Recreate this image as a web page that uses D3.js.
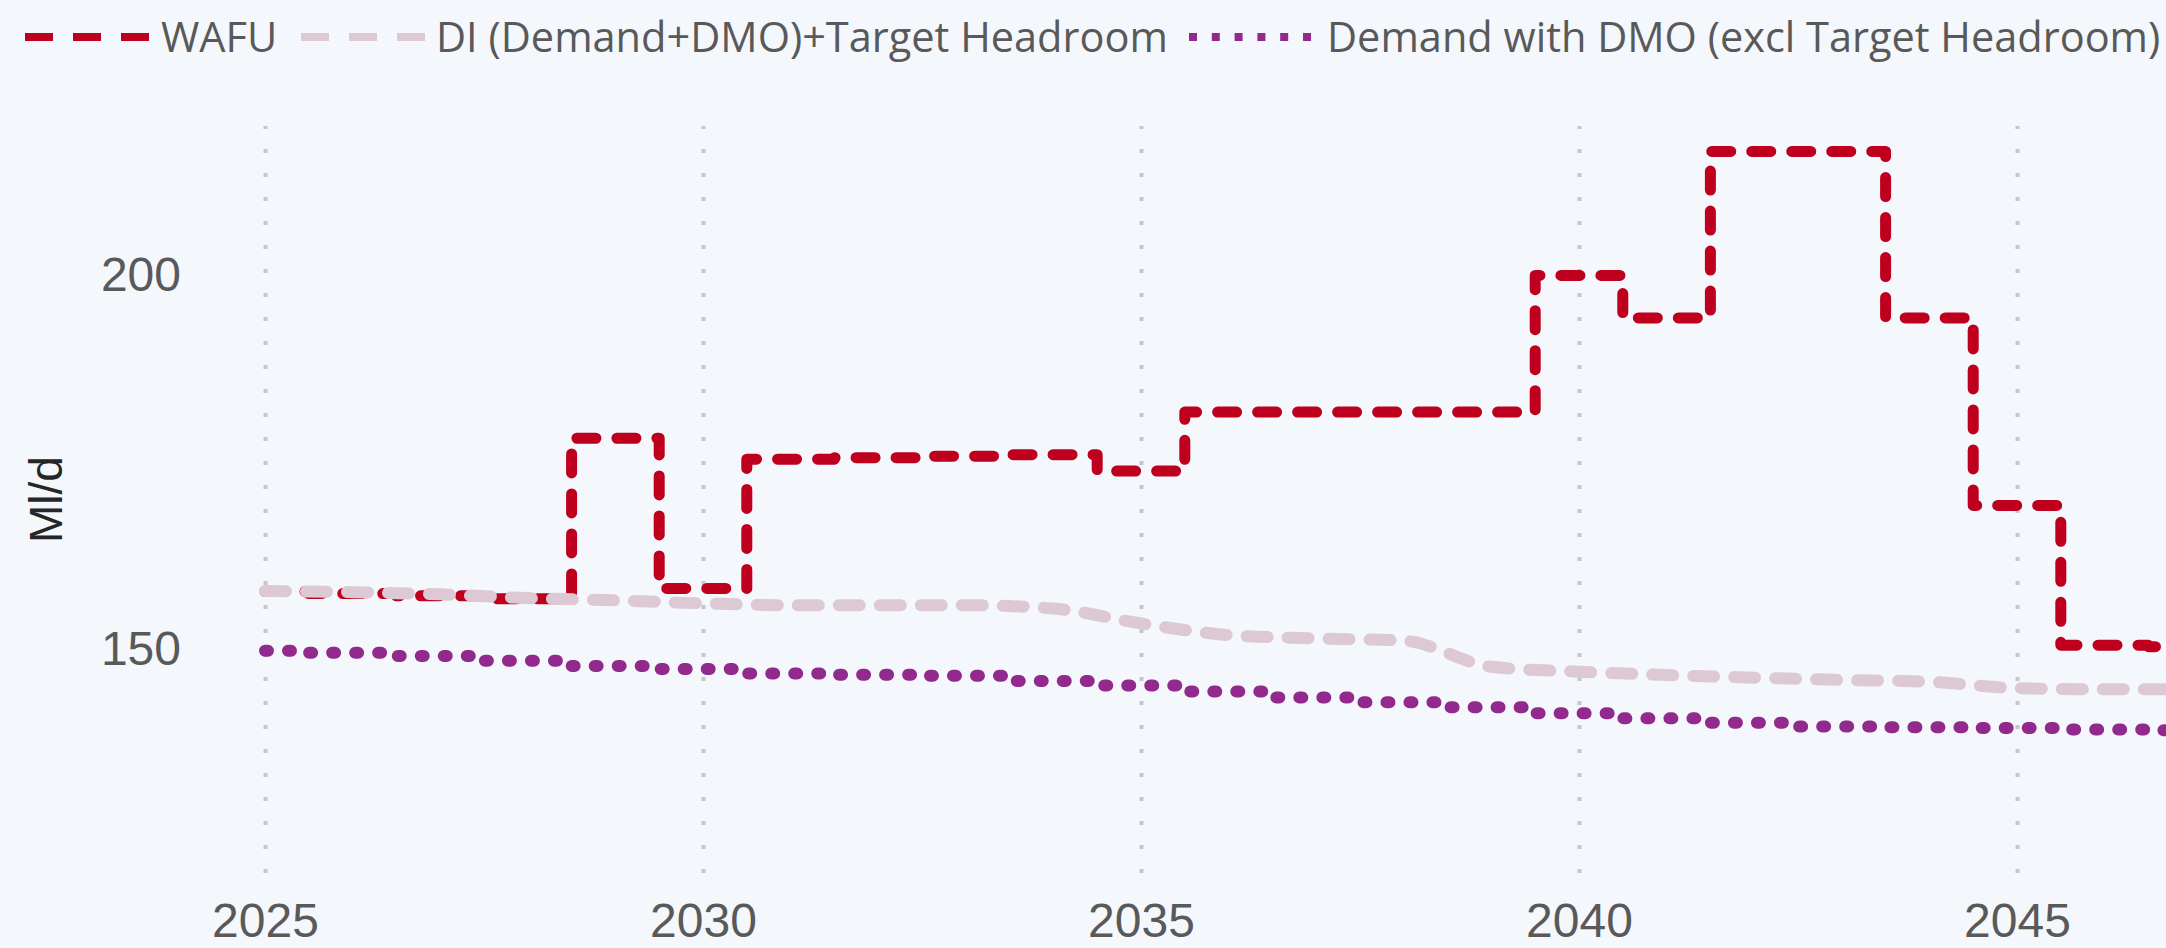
<!DOCTYPE html>
<html>
<head>
<meta charset="utf-8">
<script src="https://cdn.jsdelivr.net/npm/d3@7"></script>
<style>
  html, body { margin: 0; padding: 0; background: #F4F7FC; }
  svg { display: block; }
</style>
</head>
<body>
<svg id="chart" width="2166" height="948"></svg>
<script>
// ---- Data ----
const years = [2025, 2026, 2027, 2028, 2029, 2030, 2031, 2032, 2033, 2034, 2035, 2036,
               2037, 2038, 2039, 2040, 2041, 2042, 2043, 2044, 2045, 2046, 2047];
const wafu = [157.7, 157.4, 157.1, 156.7, 178.2, 158.1, 175.4, 175.6, 175.8, 176.0, 173.8, 181.7,
              181.7, 181.7, 181.7, 200.0, 194.3, 216.6, 216.6, 194.3, 169.2, 150.5, 150.3];
const diTarget = [157.75, 157.6, 157.3, 156.8, 156.5, 156.1, 155.85, 155.85, 155.85, 155.4, 153.4, 151.85,
                  151.4, 151.1, 147.6, 146.95, 146.5, 146.15, 145.85, 145.6, 144.75, 144.6, 144.6];
const demandDMO = [149.75, 149.5, 149.05, 148.4, 147.7, 147.3, 146.7, 146.55, 146.4, 145.7, 145.1, 144.3,
                   143.5, 142.85, 142.2, 141.4, 140.7, 140.1, 139.6, 139.5, 139.4, 139.2, 139.1];
const xTicks = [2025, 2030, 2035, 2040, 2045];
const yTicks = [150, 200];
const seriesNames = ["WAFU", "DI (Demand+DMO)+Target Headroom", "Demand with DMO (excl Target Headroom)"];
const yTitle = "Ml/d";

// ---- Styling ----
const colRed = "#BE001E", colPink = "#DDC9D3", colPurple = "#922A8E";
const textCol = "#595959";

const svg = d3.select("#chart");
const x = d3.scaleLinear().domain([2025, 2045]).range([265, 2017]);
const y = d3.scaleLinear().domain([120, 220]).range([873, 126]);

// Vertical dotted gridlines
svg.append("g")
  .attr("transform", `translate(0,${y(120)})`)
  .call(d3.axisBottom(x).tickValues(xTicks).tickSize(-(y(120) - y(220))).tickFormat(""))
  .call(g => g.select(".domain").remove())
  .call(g => g.selectAll(".tick line")
      .attr("stroke", "#C6C6C6").attr("stroke-width", 4).attr("stroke-dasharray", "4 20"));

// X axis labels
svg.append("g")
  .attr("transform", `translate(0,${y(120)})`)
  .call(d3.axisBottom(x).tickValues(xTicks).tickFormat(d3.format("d")).tickSize(0).tickPadding(30))
  .call(g => g.select(".domain").remove())
  .call(g => g.selectAll("text")
      .attr("fill", textCol).style("font-family", "'Liberation Sans', Arial, sans-serif").style("font-size", "48px"));

// Y axis labels
svg.append("g")
  .attr("transform", `translate(${x(2025)},0)`)
  .call(d3.axisLeft(y).tickValues(yTicks).tickSize(0).tickPadding(84))
  .call(g => g.select(".domain").remove())
  .call(g => g.selectAll("text")
      .attr("fill", textCol).style("font-family", "'Liberation Sans', Arial, sans-serif").style("font-size", "48px"));

// Y title
svg.append("text")
  .attr("transform", `translate(62,${(y(120) + y(220)) / 2}) rotate(-90)`)
  .attr("text-anchor", "middle")
  .attr("fill", "#262626")
  .style("font-family", "'Liberation Sans', Arial, sans-serif")
  .style("font-size", "46px")
  .text(yTitle);

// Lines
const stepLine = d3.line().x((d, i) => x(years[i])).y(d => y(d)).curve(d3.curveStep);
const smoothLine = d3.line().x((d, i) => x(years[i])).y(d => y(d)).curve(d3.curveMonotoneX);

svg.append("path").datum(wafu)
  .attr("d", stepLine).attr("fill", "none")
  .attr("stroke", colRed).attr("stroke-width", 11)
  .attr("stroke-linecap", "round").attr("stroke-linejoin", "round")
  .attr("stroke-dasharray", "19 21");

svg.append("path").datum(diTarget)
  .attr("d", smoothLine).attr("fill", "none")
  .attr("stroke", colPink).attr("stroke-width", 12)
  .attr("stroke-linecap", "round").attr("stroke-linejoin", "round")
  .attr("stroke-dasharray", "21 20");

svg.append("path").datum(demandDMO)
  .attr("d", stepLine).attr("fill", "none")
  .attr("stroke", colPurple).attr("stroke-width", 12)
  .attr("stroke-linecap", "round").attr("stroke-linejoin", "round")
  .attr("stroke-dasharray", "3 20");

// Legend
const legendY = 37;
const legendItems = [
  { name: seriesNames[0], color: colRed, x0: 25, x1: 149, dash: "28 20", textX: 161 },
  { name: seriesNames[1], color: colPink, x0: 301, x1: 425, dash: "28 20", textX: 436 },
  { name: seriesNames[2], color: colPurple, x0: 1189, x1: 1311, dash: "8 14.8", textX: 1327 }
];
const lg = svg.append("g");
lg.selectAll("line").data(legendItems).join("line")
  .attr("x1", d => d.x0).attr("x2", d => d.x1)
  .attr("y1", legendY).attr("y2", legendY)
  .attr("stroke", d => d.color).attr("stroke-width", 8)
  .attr("stroke-dasharray", d => d.dash);
lg.selectAll("text").data(legendItems).join("text")
  .attr("x", d => d.textX).attr("y", 52)
  .attr("fill", textCol)
  .style("font-family", "'Open Sans', sans-serif")
  .style("font-size", "41.5px")
  .text(d => d.name);
</script>
</body>
</html>
